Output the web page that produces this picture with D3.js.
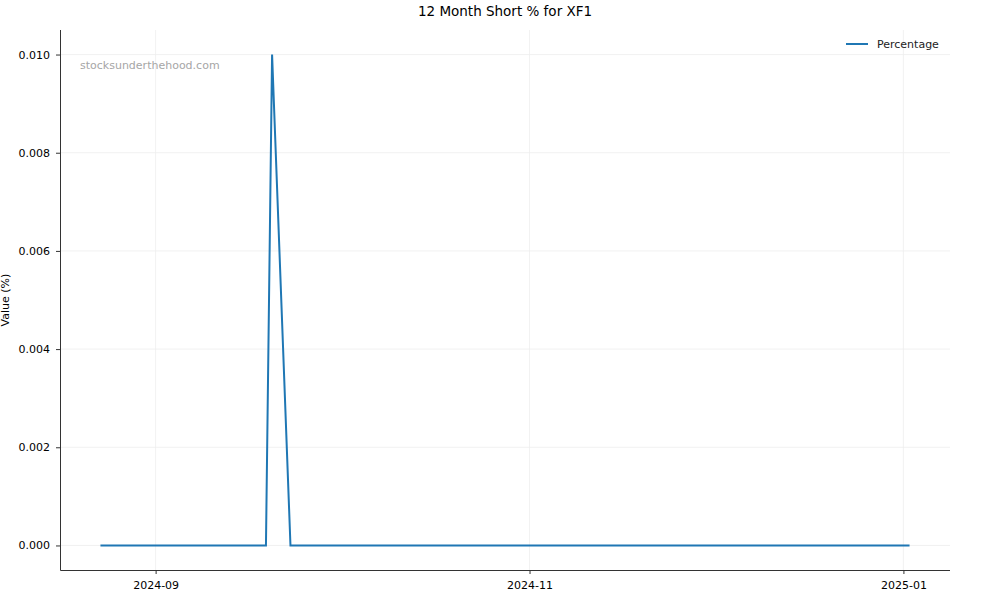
<!DOCTYPE html>
<html>
<head>
<meta charset="utf-8">
<script src="https://cdn.jsdelivr.net/npm/d3@7"></script>
<style>
  html, body { margin: 0; padding: 0; background: #fff; overflow: hidden; }
  svg { display: block; }
  text { font-family: "DejaVu Sans", sans-serif; }
</style>
</head>
<body>
<svg id="chart" width="1000" height="600"></svg>
<script>
// data (flat zero except one spike)
const dates = ["2024-08-23", "2024-09-19", "2024-09-20", "2024-09-23", "2025-01-02"];
const values = [0, 0, 0.01, 0, 0];
const xTicks = ["2024-09-01", "2024-11-01", "2025-01-01"];
const yTicks = [0, 0.002, 0.004, 0.006, 0.008, 0.010];

const parse = d3.timeParse("%Y-%m-%d");
const data = dates.map((d, i) => ({ date: parse(d), value: values[i] }));

const margin = { top: 30, right: 50, bottom: 30, left: 60 };
const width = 1000, height = 600;
const innerWidth = width - margin.left - margin.right;
const innerHeight = height - margin.top - margin.bottom;

const svg = d3.select("#chart");
const g = svg.append("g").attr("transform", `translate(${margin.left},${margin.top})`);

// matplotlib style 5% padding
const xExt = d3.extent(data, d => d.date);
const xPad = (xExt[1] - xExt[0]) * 0.05;
const xScale = d3.scaleTime()
  .domain([new Date(+xExt[0] - xPad), new Date(+xExt[1] + xPad)])
  .range([0, innerWidth]);

const yMax = d3.max(values), yMin = d3.min(values);
const yPad = (yMax - yMin) * 0.05;
const yScale = d3.scaleLinear()
  .domain([yMin - yPad, yMax + yPad])
  .range([innerHeight, 0]);

// grid
g.selectAll(".vgrid")
  .data(xTicks.map(parse))
  .enter().append("line")
  .attr("x1", d => xScale(d)).attr("x2", d => xScale(d))
  .attr("y1", 0).attr("y2", innerHeight)
  .style("stroke", "#eeeeee").style("stroke-width", 0.8);

g.selectAll(".hgrid")
  .data(yTicks)
  .enter().append("line")
  .attr("x1", 0).attr("x2", innerWidth)
  .attr("y1", d => yScale(d)).attr("y2", d => yScale(d))
  .style("stroke", "#eeeeee").style("stroke-width", 0.8);

// axes
const xAxis = d3.axisBottom(xScale)
  .tickValues(xTicks.map(parse))
  .tickFormat(d3.timeFormat("%Y-%m"))
  .tickSize(4).tickPadding(7);
const xg = g.append("g").attr("transform", `translate(0,${innerHeight})`).call(xAxis);

const yAxis = d3.axisLeft(yScale)
  .tickValues(yTicks)
  .tickFormat(d3.format(".3f"))
  .tickSize(4).tickPadding(6);
const yg = g.append("g").call(yAxis);

[xg, yg].forEach(a => {
  a.select(".domain").style("stroke", "#333").style("stroke-width", 1);
  a.selectAll(".tick line").style("stroke", "#333");
  a.selectAll(".tick text").style("font-size", "11px").style("fill", "#000")
    .style("font-family", "DejaVu Sans, sans-serif");
});
// mpl-like: domain without the outer ticks
xg.select(".domain").attr("d", `M0.5,0.5H${innerWidth}`);
yg.select(".domain").attr("d", `M0.5,0V${innerHeight + 0.5}`);

// line
const line = d3.line().x(d => xScale(d.date)).y(d => yScale(d.value));
g.append("path")
  .datum(data)
  .attr("d", line)
  .style("fill", "none")
  .style("stroke", "#1f77b4")
  .style("stroke-width", 2);

// watermark
g.append("text")
  .attr("x", 20).attr("y", 39)
  .text("stocksunderthehood.com")
  .style("font-size", "11px")
  .style("fill", "#a6a6a6");

// title
svg.append("text")
  .attr("x", margin.left + innerWidth / 2)
  .attr("y", 16)
  .attr("text-anchor", "middle")
  .text("12 Month Short % for XF1")
  .style("font-size", "13.5px");

// y label
svg.append("text")
  .attr("transform", "rotate(-90)")
  .attr("x", -(margin.top + innerHeight / 2))
  .attr("y", 9)
  .attr("text-anchor", "middle")
  .text("Value (%)")
  .style("font-size", "11px");

// legend
const lg = g.append("g").attr("transform", `translate(${innerWidth - 104},14)`);
lg.append("line")
  .attr("x1", 0).attr("x2", 22).attr("y1", 0).attr("y2", 0)
  .style("stroke", "#1f77b4").style("stroke-width", 2);
lg.append("text")
  .attr("x", 31).attr("y", 0)
  .attr("dominant-baseline", "central")
  .text("Percentage")
  .style("font-size", "11px")
  .style("fill", "#222");
</script>
</body>
</html>
